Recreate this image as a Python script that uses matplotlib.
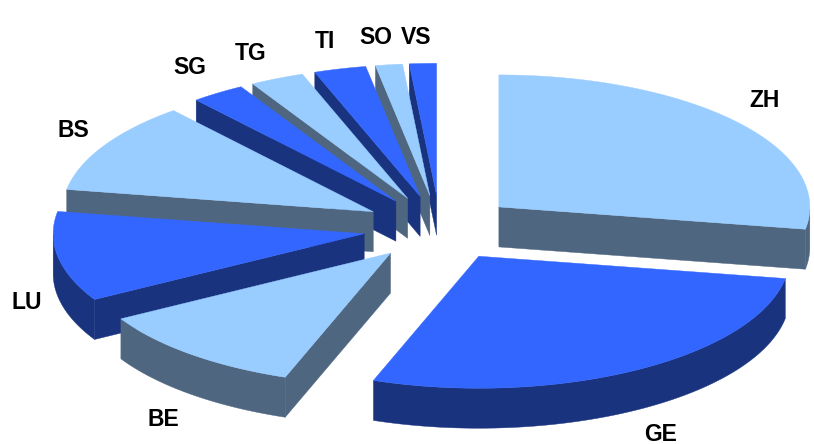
import numpy as np
import matplotlib
matplotlib.use("Agg")
import matplotlib.pyplot as plt
from matplotlib.patches import Polygon

# kantone und anteile in prozent, clockwise from 12 o'clock
kantone = ["ZH", "GE", "BE", "LU", "BS", "SG", "TG", "TI", "SO", "VS"]
anteile = [27.7, 27.8, 11.2, 11.0, 11.2, 2.8, 2.8, 2.7, 1.4, 1.4]

# layout in pixels of the 814x444 picture
MITTE_X, MITTE_Y = 440, 228
RX, RY = 311, 132
EXPLODE = 77
TIEFE = 40
FARBEN_OBEN = ["#99CCFF", "#3366FF"]
FARBEN_SEITE = ["#4F6680", "#19337F"]
# label centres
label_x = [765, 661, 163, 27, 73, 190, 251, 325, 376, 416]
label_y = [100, 434, 419, 302, 130, 67, 53, 42, 38, 37]
# back slices first so the front ones overlap them
reihenfolge = [9, 8, 7, 6, 5, 4, 0, 3, 2, 1]


def punkt(winkel, r=1.0):
    w = np.radians(winkel)
    return r * RX * np.sin(w), -r * RY * np.cos(w)


def wand(ax, oben, farbe, z):
    unten = [(x, y + TIEFE) for x, y in oben]
    ax.add_patch(Polygon(oben + unten[::-1], closed=True, facecolor=farbe,
                         edgecolor=farbe, linewidth=0.3, zorder=z))


fig = plt.figure(figsize=(8.14, 4.44), dpi=100)
ax = fig.add_axes([0, 0, 1, 1])
ax.set_xlim(0, 814)
ax.set_ylim(444, 0)
ax.axis("off")

grenzen = np.concatenate([[0], np.cumsum(anteile)]) / np.sum(anteile) * 360

for z, i in enumerate(reihenfolge):
    start, ende = grenzen[i], grenzen[i + 1]
    mitte = (start + ende) / 2
    dx, dy = punkt(mitte)
    cx = MITTE_X + EXPLODE * dx / RX
    cy = MITTE_Y + EXPLODE * dy / RY * (RY / RX)
    oben = FARBEN_OBEN[i % 2]
    seite = FARBEN_SEITE[i % 2]
    winkel = np.linspace(start, ende, 80)
    rand = [(cx + punkt(w)[0], cy + punkt(w)[1]) for w in winkel]

    # cut faces that turn towards the viewer
    if start > 180:
        wand(ax, [(cx, cy), rand[0]], seite, z * 3)
    if ende < 180:
        wand(ax, [(cx, cy), rand[-1]], seite, z * 3)
    # outer rim, front half only
    vorne = [p for w, p in zip(winkel, rand) if 90 <= w <= 270]
    if len(vorne) > 1:
        wand(ax, vorne, seite, z * 3 + 1)
    ax.add_patch(Polygon([(cx, cy)] + rand, closed=True, facecolor=oben,
                         edgecolor=oben, linewidth=0.3, zorder=z * 3 + 2))

for name, x, y in zip(kantone, label_x, label_y):
    ax.text(x, y, name, ha="center", va="center", fontsize=16.5,
            fontweight="bold", family="Liberation Sans", color="black", zorder=100)

fig.savefig("out.png", dpi=100)
